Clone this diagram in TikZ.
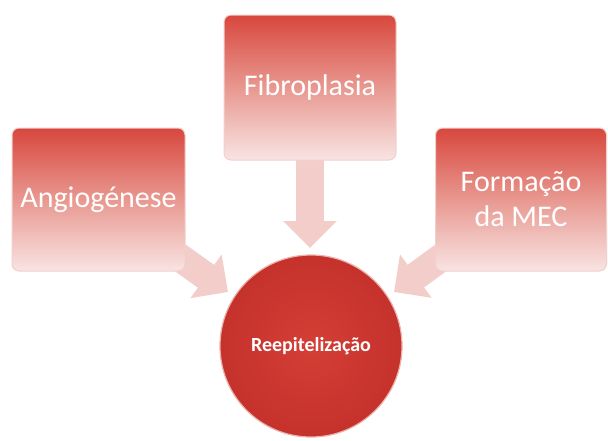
\documentclass[tikz,border=0pt]{standalone}
\usepackage{fontspec}
\setmainfont{Carlito}
\usetikzlibrary{arrows.meta,backgrounds}
\definecolor{boxtop}{HTML}{D8473D}
\definecolor{boxmid}{HTML}{E89890}
\definecolor{boxbot}{HTML}{F8E4E3}
\definecolor{boxedge}{HTML}{F3CFCB}
\definecolor{circin}{HTML}{D43E35}
\definecolor{circout}{HTML}{C5322C}
\definecolor{circedge}{HTML}{EDB1AB}
\definecolor{arrowcol}{HTML}{F2CDCA}
\tikzset{
  x=1pt,y=-1pt,
  stagebox/.style={draw=boxedge,line width=1pt,rounded corners=7pt,
    top color=boxtop,bottom color=boxbot,middle color=boxmid,
    inner sep=0pt,align=center,text=white,font=\fontsize{30}{35}\selectfont},
  hubcircle/.style={circle,draw=circedge,line width=1.2pt,
    inner color=circin,outer color=circout,minimum size=182pt,inner sep=0pt,
    text=white,font=\fontsize{20}{24}\selectfont\bfseries},
  blockarrow/.style={draw=arrowcol,line width=28pt,
    -{Triangle[width=52pt,length=27pt]}}
}
\begin{document}
\begin{tikzpicture}
\useasboundingbox (0,0) rectangle (608,440);
\node[stagebox,minimum width=173pt,minimum height=143pt] (angio) at (98.5,199.5) {Angiogénese};
\node[stagebox,minimum width=172pt,minimum height=145pt] (fibro) at (310,87.5) {Fibroplasia};
\node[stagebox,minimum width=171pt,minimum height=143pt] (mec) at (521,199.5) {Formação\\da MEC};
\node[hubcircle] (hub) at (311,346) {Reepitelização};
\coordinate (tipL) at (228,292);
\coordinate (tipT) at (310,248);
\coordinate (tipR) at (394,292);
\begin{pgfonlayer}{background}
\draw[blockarrow] (angio.center) -- (tipL);
\draw[blockarrow] (fibro.center) -- (tipT);
\draw[blockarrow] (mec.center) -- (tipR);
\end{pgfonlayer}
\end{tikzpicture}
\end{document}
